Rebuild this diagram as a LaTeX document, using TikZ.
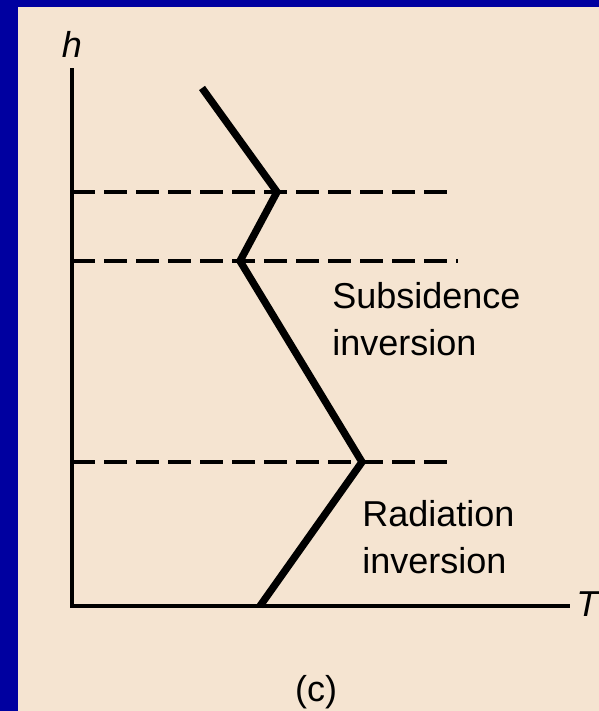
\documentclass[tikz,border=0pt]{standalone}
\usepackage{fontspec}
\setmainfont{Liberation Sans}
\usetikzlibrary{positioning}
\definecolor{slideblue}{RGB}{0,0,160}
\definecolor{paper}{RGB}{245,228,209}

\begin{document}
\begin{tikzpicture}[x=0.75pt, y=-0.75pt, every node/.style={font=\fontsize{27}{35}\selectfont, inner sep=0pt}, axis/.style={line width=2.5pt}, level/.style={line width=2.4pt, dash pattern=on 17pt off 7pt}, profile/.style={line width=5.5pt, line join=miter}, tag/.style={align=left, anchor=base west}]
\fill[slideblue] (0,0) rectangle (599,711);
\fill[paper] (18,7) rectangle (599,711);
\useasboundingbox (0,0) rectangle (599,711);
% axes
\coordinate (o) at (72,606);
\coordinate (ytop) at (72,68);
\coordinate (xend) at (570,606);
\draw[axis] (ytop) -- (o) -- (xend);
\node[anchor=base, font=\fontsize{27}{35}\selectfont\itshape] (h) at (72,57) {h};
\node[anchor=base west, font=\fontsize{27}{35}\selectfont\itshape] (T) at (576,616) {T};
% inversion levels
\coordinate (a1) at (72,192);
\coordinate (b1) at (452,192);
\coordinate (a2) at (72,261);
\coordinate (b2) at (458,261);
\coordinate (a3) at (72,462);
\coordinate (b3) at (455,462);
\draw[level] (a1) -- (b1);
\draw[level] (a2) -- (b2);
\draw[level] (a3) -- (b3);
% temperature profile
\coordinate (p0) at (202,88);
\coordinate (p1) at (277,192);
\coordinate (p2) at (240,261);
\coordinate (p3) at (362,462);
\coordinate (p4) at (260,606);
\draw[profile] (p0) -- (p1) -- (p2) -- (p3) -- (p4);
% labels
\node[tag] (subs) at (332,355) {Subsidence\\inversion};
\node[tag] (rad) at (362,573) {Radiation\\inversion};
\node[anchor=base] (c) at (316,701) {(c)};
\end{tikzpicture}
\end{document}
